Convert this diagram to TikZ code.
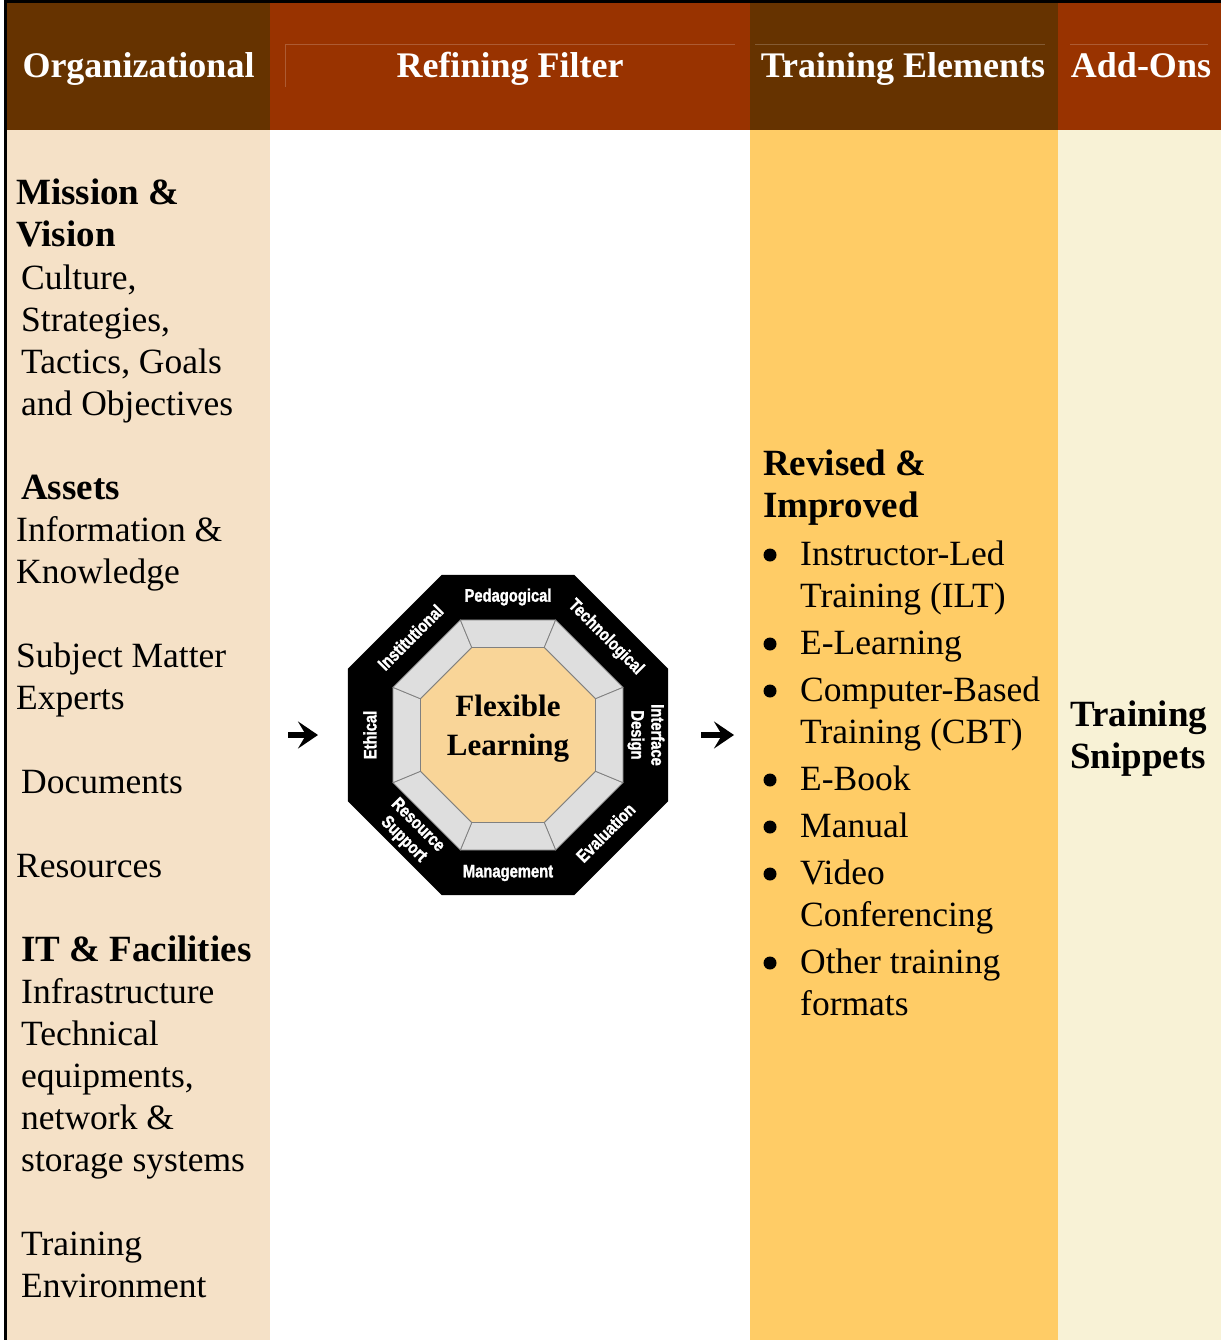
\documentclass[tikz,border=0pt]{standalone}
\usepackage{fontspec}
\setmainfont{Liberation Serif}
\newfontfamily\wheelfont[FakeStretch=0.82,BoldFeatures={FakeBold=1.6}]{Liberation Sans}
\usetikzlibrary{arrows.meta}

\definecolor{darkbrown}{HTML}{663300}
\definecolor{rust}{HTML}{993300}
\definecolor{orgtan}{HTML}{F5E1C7}
\definecolor{elemgold}{HTML}{FFCC66}
\definecolor{addcream}{HTML}{F8F2D6}
\definecolor{coretan}{HTML}{F9D598}

\tikzstyle{colhead}=[text=white,anchor=base,inner sep=0pt,font=\fontsize{36}{42}\selectfont\bfseries]
\tikzstyle{textline}=[anchor=base west,inner sep=0pt,font=\fontsize{35.5}{42}\selectfont]
\tikzstyle{dot}=[circle,fill=black,minimum size=13pt,inner sep=0pt]
\tikzstyle{facet}=[text=white,align=center,inner sep=0pt,font=\wheelfont\bfseries\fontsize{18}{20}\selectfont]
\tikzstyle{ring}=[fill=black!13,draw=black!50,line width=.8pt]
\tikzstyle{feed}=[line width=5.5pt,-{Stealth[length=20pt,width=27pt,inset=8pt]}]
\tikzstyle{hairline}=[white,opacity=.2,line width=1pt]
\newcommand{\boldline}[1]{{\fontsize{37}{42}\selectfont\bfseries #1}}

\begin{document}
\begin{tikzpicture}[x=1pt,y=-1pt]
    \useasboundingbox (0,0) rectangle (1221,1340);
    \fill[white] (0,0) rectangle (1221,1340);
    % columns
    \fill[darkbrown] (7,3) rectangle (270,130);
    \fill[rust] (270,3) rectangle (750,130);
    \fill[darkbrown] (750,3) rectangle (1058,130);
    \fill[rust] (1058,3) rectangle (1221,130);
    \fill[orgtan] (7,130) rectangle (270,1340);
    \fill[elemgold] (750,130) rectangle (1058,1340);
    \fill[addcream] (1058,130) rectangle (1221,1340);
    \fill[black] (4,0) rectangle (1221,3);
    \fill[black] (4,0) rectangle (7,1340);
    \draw[hairline] (285,87) -- (285,45) -- (735,45);
    \draw[hairline] (755,45) -- (1045,45);
    \draw[hairline] (1070,45) -- (1208,45);

    \node[colhead] (hOrg) at (138.5,78) {Organizational};
    \node[colhead] (hFilter) at (510,78) {Refining Filter};
    \node[colhead] (hElem) at (903,78) {Training Elements};
    \node[colhead] (hAdd) at (1141,78) {Add-Ons};

    % organizational column
    \foreach \row/\xx/\txt in {0/16/{\boldline{Mission \&}}, 1/16/{\boldline{Vision}},
        2/21/{Culture,}, 3/21/{Strategies,}, 4/21/{Tactics, Goals}, 5/21/{and Objectives},
        7/21/{\boldline{Assets}}, 8/16/{Information \&}, 9/16/Knowledge,
        11/16/{Subject Matter}, 12/16/Experts, 14/21/Documents, 16/16/Resources,
        18/21/{\boldline{IT \& Facilities}}, 19/21/Infrastructure, 20/21/Technical,
        21/21/{equipments,}, 22/21/{network \&}, 23/21/{storage systems},
        25/21/Training, 26/21/Environment}
        \node[textline] (org\row) at (\xx,205+42*\row) {\txt};

    % filter wheel
    \begin{scope}[shift={(508,735)}]
    \fill[black] (22.5:173.2) \foreach \a in {67.5,112.5,...,337.5}{ -- (\a:173.2)} -- cycle;
    \foreach \a in {22.5,67.5,...,337.5}
        \filldraw[ring] (\a:124.5) -- (\a+45:124.5) -- (\a+45:94.7) -- (\a:94.7) -- cycle;
    \filldraw[fill=coretan,draw=black!50,line width=.8pt] (22.5:94.7) \foreach \a in {67.5,112.5,...,337.5}{ -- (\a:94.7)} -- cycle;
    \node[align=center,font=\fontsize{31}{39}\selectfont\bfseries] (core) at (0,-6) {Flexible\\Learning};
    \node[facet] (pedag) at (0,-138) {Pedagogical};
    \node[facet,rotate=-45] (techno) at (97.6,-97.6) {Technological};
    \node[facet,rotate=-90] (iface) at (138,0) {Interface\\Design};
    \node[facet,rotate=45] (evalu) at (97.6,97.6) {Evaluation};
    \node[facet] (manage) at (0,138) {Management};
    \node[facet,rotate=-45] (resource) at (-97.6,97.6) {Resource\\Support};
    \node[facet,rotate=90] (ethic) at (-138,0) {Ethical};
    \node[facet,rotate=45] (instit) at (-97.6,-97.6) {Institutional};
    \end{scope}

    \coordinate (inTail) at (288,735);
    \coordinate (inTip) at (318,735);
    \coordinate (outTail) at (701,735);
    \coordinate (outTip) at (734,735);
    \draw[feed] (inTail) -- (inTip);
    \draw[feed] (outTail) -- (outTip);

    % training elements
    \node[textline] (revised) at (763,475) {\boldline{Revised \&}};
    \node[textline] (improved) at (763,517) {\boldline{Improved}};
    \foreach \yy/\txt in {565/Instructor-Led, 607/{Training (ILT)}, 654/E-Learning,
        701/Computer-Based, 743/{Training (CBT)}, 790/E-Book, 837/Manual, 884/Video,
        926/Conferencing, 973/{Other training}, 1015/formats}
        \node[textline] (el\yy) at (800,\yy) {\txt};
    \foreach \yy in {565,654,701,790,837,884,973}
        \node[dot] (dot\yy) at (770,\yy-10) {};

    % add-ons
    \node[textline] (snipA) at (1070,726) {\boldline{Training}};
    \node[textline] (snipB) at (1070,768) {\boldline{Snippets}};
\end{tikzpicture}
\end{document}
